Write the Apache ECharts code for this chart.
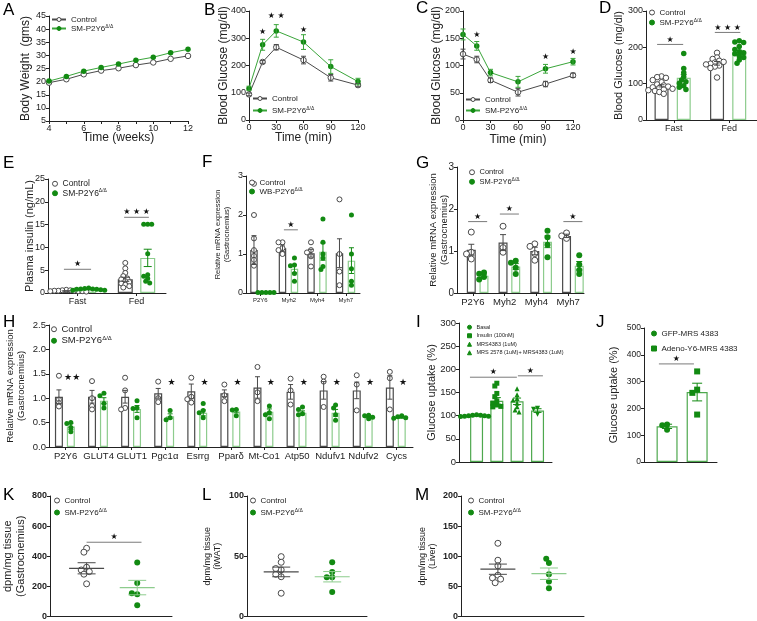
<!DOCTYPE html>
<html>
<head>
<meta charset="utf-8">
<script src="https://cdn.jsdelivr.net/npm/echarts@6/dist/echarts.min.js"></script>
<style>
html, body { margin: 0; padding: 0; background: #fff; }
#chart-container { width: 757px; height: 621px; }
</style>
</head>
<body>
<div id="chart-container"></div>
<script>
// ---------- data ----------
// A: body weight
const weeks = [4, 5, 6, 7, 8, 9, 10, 11, 12];
const bwControl = [19.6, 20.9, 22.8, 24.2, 25.1, 26.3, 27.3, 28.7, 29.8];
const bwSM = [20.2, 22.0, 24.0, 25.4, 26.7, 28.1, 29.3, 31.0, 32.3];

// B: glucose tolerance
const gttTime = [0, 15, 30, 60, 90, 120];
const gttControl = [94, 213, 267, 220, 155, 128];
const gttControlSem = [5, 5, 10, 14, 12, 6];
const gttSM = [116, 276, 327, 286, 196, 141];
const gttSMSem = [8, 20, 23, 27, 25, 12];
const gttStars = [[15, 322, '★'], [30, 382, '★ ★'], [60, 330, '★']];

// C: insulin tolerance
const ittTime = [0, 15, 30, 60, 90, 120];
const ittControl = [121, 111, 73, 51, 66, 82];
const ittControlSem = [9, 6, 4, 7, 5, 4];
const ittSM = [157, 136, 87, 70, 94, 107];
const ittSMSem = [10, 8, 6, 10, 8, 6];
const ittStars = [[15, 157, '★'], [90, 115, '★'], [120, 125, '★']];

// D: blood glucose fast / fed
const dCats = ['Fast', 'Fed'];
const dControlMean = [94, 156];
const dControlSem = [3, 5];
const dSMMean = [116, 186];
const dSMSem = [9, 6];
const dControlDots = [
  [120, 118, 116, 110, 104, 98, 95, 92, 90, 88, 86, 84, 82, 80, 77, 72],
  [185, 172, 168, 163, 160, 158, 155, 153, 150, 147, 143, 117]
];
const dSMDots = [
  [183, 142, 130, 119, 110, 105, 101, 94, 90, 84],
  [218, 215, 213, 202, 194, 188, 185, 182, 176, 172, 165, 156]
];
const dSig = [[0.2, 0.67, 208, '★'], [1.24, 1.7, 241, '★ ★ ★']];

// E: plasma insulin
const eCats = ['Fast', 'Fed'];
const eControlMean = [0.45, 3.0];
const eControlSem = [0.05, 0.45];
const eSMMean = [0.8, 7.7];
const eSMSem = [0.07, 1.9];
const eControlDots = [
  [0.7, 0.6, 0.6, 0.5, 0.5, 0.5, 0.4, 0.4, 0.4, 0.3, 0.3, 0.2],
  [6.6, 5.4, 4.4, 3.7, 3.2, 3.0, 2.6, 2.4, 2.1, 1.8, 1.5, 1.2]
];
const eSMDots = [
  [1.1, 1.0, 0.9, 0.9, 0.8, 0.8, 0.7, 0.6, 0.6],
  [15.1, 15.1, 15.1, 8.6, 4.0, 3.7, 3.2, 2.6, 2.2]
];
const eSig = [[0.27, 0.73, 5.2, '★'], [1.29, 1.71, 16.6, '★ ★ ★']];

// F: WB knockout mRNA
const fCats = ['P2Y6', 'Myh2', 'Myh4', 'Myh7'];
const fControlMean = [1.1, 1.15, 1.02, 1.02];
const fControlSem = [0.37, 0.08, 0.1, 0.37];
const fWBMean = [0.0, 0.62, 1.06, 0.83];
const fWBSem = [0.0, 0.1, 0.22, 0.33];
const fControlDots = [[2.8, 2.0, 1.4, 1.1, 0.95, 0.85, 0.7], [1.3, 1.3, 1.15, 1.1, 1.0], [1.3, 1.1, 1.04, 0.94, 0.68], [2.4, 1.0, 0.55, 0.2]];
const fWBDots = [[0.01, 0.01, 0.01, 0.01, 0.01], [0.9, 0.72, 0.7, 0.5, 0.3], [1.9, 1.3, 1.0, 0.9, 0.68, 0.6], [2.0, 1.0, 0.62, 0.3, 0.2]];
const fSig = [[1.33, 1.82, 1.62, '★']];

// G: SM knockout mRNA
const gCats = ['P2Y6', 'Myh2', 'Myh4', 'Myh7'];
const gControlMean = [1.03, 1.2, 1.0, 1.36];
const gControlSem = [0.13, 0.19, 0.09, 0.04];
const gSMMean = [0.41, 0.63, 1.22, 0.65];
const gSMSem = [0.04, 0.07, 0.14, 0.1];
const gControlDots = [[1.45, 0.97, 0.93, 0.81], [1.59, 1.08, 0.97], [1.17, 1.11, 0.94, 0.78], [1.43, 1.36, 1.3]];
const gSMDots = [[0.49, 0.46, 0.38, 0.32], [0.77, 0.72, 0.6, 0.45], [1.48, 1.33, 1.15, 0.85], [0.9, 0.68, 0.55, 0.45]];
const gSig = [[0.35, 0.95, 1.7, '★'], [1.35, 1.95, 1.88, '★'], [3.35, 3.95, 1.7, '★']];

// H: gene panel
const hCats = ['P2Y6', 'GLUT4', 'GLUT1', 'Pgc1α', 'Esrrg', 'Pparδ', 'Mt-Co1', 'Atp50', 'Ndufv1', 'Ndufv2', 'Cycs'];
const hControlMean = [1.03, 1.03, 1.03, 1.10, 1.14, 1.10, 1.22, 1.13, 1.16, 1.16, 1.22];
const hControlSem = [0.14, 0.13, 0.13, 0.10, 0.15, 0.07, 0.22, 0.15, 0.18, 0.17, 0.24];
const hSMMean = [0.42, 0.95, 0.78, 0.63, 0.70, 0.73, 0.72, 0.70, 0.70, 0.62, 0.61];
const hSMSem = [0.06, 0.06, 0.07, 0.05, 0.06, 0.03, 0.06, 0.04, 0.07, 0.02, 0.02];
const hControlDots = [
  [1.46, 0.97, 0.9, 0.83], [1.35, 1.0, 0.84, 0.77], [1.42, 1.16, 0.8, 0.77], [1.34, 1.0, 0.92],
  [1.42, 1.03, 0.98, 0.91], [1.28, 1.06, 0.94], [1.64, 1.12, 0.94], [1.4, 1.16, 0.87],
  [1.44, 1.34, 0.82], [1.47, 1.28, 0.75], [1.54, 1.41, 0.77]
];
const hSMDots = [
  [0.5, 0.48, 0.4, 0.31], [1.1, 1.05, 0.89, 0.8], [0.95, 0.8, 0.79, 0.6], [0.75, 0.6, 0.56],
  [0.89, 0.75, 0.7, 0.6], [0.77, 0.76, 0.64], [0.84, 0.7, 0.66, 0.58], [0.82, 0.77, 0.68, 0.66],
  [0.86, 0.8, 0.66, 0.55], [0.65, 0.64, 0.61, 0.58], [0.64, 0.62, 0.6, 0.59]
];
const hStars = ['★★', '', '', '★', '★', '★', '★', '★', '★', '★', '★'];

// I: glucose uptake, treatments
const iNames = ['basal', 'insulin', 'mrs4383', 'mrs2578'];
const iMean = [101, 132, 131, 111];
const iSem = [1, 7, 7, 4];
const iDots = [
  [102, 101, 101, 100, 100, 99, 99, 98],
  [170, 164, 148, 141, 132, 127, 123, 120, 119],
  [158, 145, 137, 134, 127, 119, 112, 108],
  [116, 114, 103]
];
const iSig = [[0.53, 2.8, 183, '★'], [2.85, 4.06, 186, '★']];

// J: glucose uptake, adeno
const jNames = ['gfp', 'adeno'];
const jMean = [133, 261];
const jSem = [8, 33];
const jDots = [[140, 137, 120], [338, 270, 258, 177]];
const jSig = [[0.51, 1.71, 366, '★']];

// K-M: tissue uptake
const kControl = [453, 427, 327, 309, 298, 281, 217];
const kSM = [358, 223, 148, 155, 75];
const kMean = [320, 192];
const kSem = [37, 48];
const lControl = [49.7, 45, 38.7, 39.8, 33, 35, 19.3];
const lSM = [45, 37, 32.6, 32.6, 20.4];
const lMean = [37, 33];
const lSem = [4, 4.3];
const mControl = [121.5, 93.4, 84, 68.5, 64, 62, 56];
const mSM = [89, 96, 70, 58, 47];
const mMean = [78.5, 71];
const mSem = [8.5, 9.5];

// ---------- styling ----------
const FONT = 'Liberation Sans, Arial, Helvetica, sans-serif';
const INK = '#222';
const GREY = '#4a4a4a';
const GREEN = '#128a12';
const LINEGREEN = '#3aa53a';
const LIGHT = '#8dcc8d';
const MIDGREEN = '#4ea84e';

const LABELS = {
  ctrlLine: 'Control', smLine: 'SM-P2Y6{sup|Δ/Δ}', ctrlDot: 'Control', smDot: 'SM-P2Y6{sup|Δ/Δ}',
  wbDot: 'WB-P2Y6{sup|Δ/Δ}', basal: 'Basal', insulin: 'Insulin (100nM)', mrs4383: 'MRS4383 (1uM)',
  mrs2578: 'MRS 2578 (1uM)+ MRS4383 (1uM)', gfp: 'GFP-MRS 4383', adeno: 'Adeno-Y6-MRS 4383'
};

const grids = [], xAxes = [], yAxes = [], series = [], legends = [], graphics = [];

function addGrid(box) {
  grids.push({ left: box[0], top: box[1], width: box[2], height: box[3] });
  return grids.length - 1;
}

function yAxisFor(gi, min, max, interval, name, o) {
  o = o || {};
  yAxes.push({
    gridIndex: gi, type: 'value', min: min, max: max, interval: interval,
    axisLine: { show: true, lineStyle: { color: INK, width: 1 } },
    axisTick: { show: true, length: 3, lineStyle: { color: INK, width: 1 } },
    axisLabel: { fontSize: o.fs || 9, color: INK, fontFamily: FONT, margin: 3, fontWeight: o.bold ? 'bold' : 'normal', formatter: o.fmt },
    splitLine: { show: false },
    name: name, nameLocation: 'middle', nameGap: o.gap, nameMoveOverlap: false,
    nameTextStyle: { fontSize: o.nfs || 11, color: INK, fontFamily: FONT, lineHeight: Math.round((o.nfs || 11) * 1.15) }
  });
  return yAxes.length - 1;
}

function xValueAxis(gi, min, max, interval, o) {
  o = o || {};
  xAxes.push({
    gridIndex: gi, type: 'value', position: 'bottom', min: min, max: max, interval: interval,
    axisLine: { show: true, onZero: false, lineStyle: { color: INK, width: 1 } },
    axisTick: { show: o.ticks !== false, length: 3, lineStyle: { color: INK } },
    minorTick: { show: !!o.minor, splitNumber: o.minor || 5, length: 3, lineStyle: { color: INK } },
    axisLabel: { show: o.labels !== false, fontSize: o.fs || 9, color: INK, fontFamily: FONT, margin: 3 },
    splitLine: { show: false },
    name: o.name || '', nameLocation: 'middle', nameGap: o.gap || 14, nameMoveOverlap: false,
    nameTextStyle: { fontSize: o.nfs || 12, color: INK, fontFamily: FONT }
  });
  return xAxes.length - 1;
}

function hiddenX(gi, max) {
  xAxes.push({ gridIndex: gi, type: 'value', position: 'bottom', min: 0, max: max, show: false });
  return xAxes.length - 1;
}

function xCatAxis(gi, cats, fs) {
  xAxes.push({
    gridIndex: gi, type: 'category', position: 'bottom', data: cats,
    axisLine: { show: true, onZero: false, lineStyle: { color: INK, width: 1 } },
    axisTick: { show: true, alignWithLabel: true, length: 3, lineStyle: { color: INK } },
    axisLabel: { fontSize: fs, color: INK, fontFamily: FONT, margin: 4, interval: 0 },
    splitLine: { show: false }
  });
  return xAxes.length - 1;
}

// simple beeswarm so equal values sit side by side, like Prism
function swarm(vals, cx, pxX, pxY, r) {
  const placed = [];
  return vals.map(function (v) {
    const py = v * pxY;
    let dx = 0;
    for (let k = 0; k < 30; k++) {
      const cand = k === 0 ? 0 : (k % 2 ? -1 : 1) * Math.ceil(k / 2) * r * 0.8;
      if (placed.every(p => (p[0] - cand) ** 2 + (p[1] - py) ** 2 >= (r * 1.35) ** 2)) { dx = cand; break; }
    }
    placed.push([dx, py]);
    return [cx + dx / pxX, v];
  });
}

function errSeries(xi, yi, data, color, capPx, meanPx) {
  return {
    type: 'custom', xAxisIndex: xi, yAxisIndex: yi, silent: true, z: 4, data: data,
    renderItem: function (params, api) {
      const x = api.value(0), m = api.value(1), e = api.value(2);
      const hi = api.coord([x, m + e]), lo = api.coord([x, m - e]), mid = api.coord([x, m]);
      const st = () => ({ stroke: color, lineWidth: 1 });
      const kids = [
        { type: 'line', shape: { x1: hi[0], y1: hi[1], x2: lo[0], y2: lo[1] }, style: st() },
        { type: 'line', shape: { x1: hi[0] - capPx / 2, y1: hi[1], x2: hi[0] + capPx / 2, y2: hi[1] }, style: st() },
        { type: 'line', shape: { x1: lo[0] - capPx / 2, y1: lo[1], x2: lo[0] + capPx / 2, y2: lo[1] }, style: st() }
      ];
      if (meanPx) kids.push({ type: 'line', shape: { x1: mid[0] - meanPx / 2, y1: mid[1], x2: mid[0] + meanPx / 2, y2: mid[1] }, style: { stroke: color, lineWidth: 1.2 } });
      return { type: 'group', children: kids };
    }
  };
}

// marks: [x1, x2, y, text]; a line is drawn when x2 > x1
function sigSeries(xi, yi, marks, fs) {
  return {
    type: 'custom', xAxisIndex: xi, yAxisIndex: yi, silent: true, z: 5,
    data: marks.map(m => [m[0], m[2]]),
    renderItem: function (params, api) {
      const m = marks[params.dataIndex];
      const a = api.coord([m[0], m[2]]), b = api.coord([m[1], m[2]]);
      const kids = [];
      const hasLine = m[1] > m[0];
      if (hasLine) kids.push({ type: 'line', shape: { x1: a[0], y1: a[1], x2: b[0], y2: b[1] }, style: { stroke: '#7a7a7a', lineWidth: 1 } });
      kids.push({
        type: 'text', x: (a[0] + b[0]) / 2, y: hasLine ? a[1] - 1 : a[1],
        style: { text: m[3], fontSize: fs, fill: '#111', align: 'center', verticalAlign: hasLine ? 'bottom' : 'middle', fontFamily: 'DejaVu Sans' }
      });
      return { type: 'group', children: kids };
    }
  };
}

function addLegend(names, left, top, o) {
  const fs = o.fs;
  legends.push({
    left: left, top: top, orient: 'vertical', data: names, selectedMode: false, padding: 0,
    itemGap: o.gap, itemWidth: o.iw, itemHeight: o.ih,
    itemStyle: { borderWidth: 1 },
    formatter: n => LABELS[n],
    textStyle: {
      fontSize: fs, color: INK, fontFamily: FONT, lineHeight: fs + 1,
      rich: { sup: { fontSize: Math.max(5, Math.round(fs * 0.6)), color: INK, fontFamily: FONT, verticalAlign: 'top', lineHeight: fs + 1 } }
    }
  });
}

// open circles: white fill with a thin grey ring
const OPEN = { color: '#fff', borderColor: GREY, borderWidth: 1, opacity: 1 };
const CTRL = { name: 'ctrlDot', symbol: 'circle', open: true, color: GREY, bar: GREY, err: GREY };
const SMK = { name: 'smDot', symbol: 'circle', color: GREEN, bar: LIGHT, err: GREEN };

function dotStyle(g) {
  return g.open ? OPEN : { color: g.color, borderColor: g.color, borderWidth: 0, opacity: 1 };
}

function linePanel(p) {
  const gi = addGrid(p.box);
  const xi = xValueAxis(gi, p.xmin, p.xmax, p.xint, { name: p.xname, gap: p.xgap, minor: p.minor });
  const yi = yAxisFor(gi, p.ymin, p.ymax, p.yint, p.yname, { gap: p.ygap, nfs: 12 });
  p.lines.forEach(function (l) {
    series.push({
      type: 'line', name: l.name, xAxisIndex: xi, yAxisIndex: yi, silent: true, z: l.z || 2,
      data: p.x.map((x, i) => [x, l.y[i]]),
      symbol: 'circle', symbolSize: 5.5,
      itemStyle: dotStyle(l),
      lineStyle: { color: l.line, width: 1 }
    });
    if (l.sem) series.push(errSeries(xi, yi, p.x.map((x, i) => [x, l.y[i], l.sem[i]]), l.err, 5, 0));
  });
  if (p.stars) series.push(sigSeries(xi, yi, p.stars.map(s => [s[0], s[0], s[1], s[2]]), 8));
}

function barPanel(p) {
  const gi = addGrid(p.box);
  if (p.cats) xCatAxis(gi, p.cats, p.catFs);
  const xi = p.cats ? hiddenX(gi, p.xmax) : xValueAxis(gi, 0, p.xmax, p.xmax, { ticks: false, labels: false });
  const yi = yAxisFor(gi, p.ymin, p.ymax, p.yint, p.yname, { gap: p.ygap, nfs: p.nfs, fs: p.yfs, fmt: p.yfmt });
  const pxX = p.box[2] / p.xmax, pxY = p.box[3] / (p.ymax - p.ymin);
  series.push({
    type: 'bar', xAxisIndex: xi, yAxisIndex: yi, barWidth: p.barW, silent: true, z: 1,
    data: p.groups.map(g => ({ value: [g.x, g.mean], itemStyle: { color: '#fff', borderColor: g.bar, borderWidth: 1.2 } }))
  });
  p.groups.forEach(function (g) {
    series.push({
      type: 'scatter', name: g.name, xAxisIndex: xi, yAxisIndex: yi, silent: true, z: 3,
      symbol: g.symbol, symbolSize: g.size || p.dot, symbolRotate: g.rot || 0,
      itemStyle: dotStyle(g),
      data: swarm(g.dots, g.x, pxX, pxY, (g.size || p.dot) / 2)
    });
    series.push(errSeries(xi, yi, [[g.x, g.mean, g.sem]], g.err, p.cap, 0));
  });
  if (p.sig) series.push(sigSeries(xi, yi, p.sig, p.starFs || 8));
}

function dotPanel(p) {
  const gi = addGrid(p.box);
  const xi = xValueAxis(gi, 0, 2, 2, { ticks: false, labels: false });
  const yi = yAxisFor(gi, 0, p.ymax, p.yint, p.yname, { gap: p.ygap, nfs: p.nfs, bold: true });
  const pxX = p.box[2] / 2, pxY = p.box[3] / p.ymax;
  [[CTRL, p.ctrl, 0], [SMK, p.sm, 1]].forEach(function (d) {
    const st = d[0], x = p.xs[d[2]];
    series.push({
      type: 'scatter', name: st.name, xAxisIndex: xi, yAxisIndex: yi, silent: true, z: 3,
      symbol: 'circle', symbolSize: 6,
      itemStyle: dotStyle(st),
      data: swarm(d[1], x, pxX, pxY, 3.4)
    });
    series.push(errSeries(xi, yi, [[x, p.mean[d[2]], p.sem[d[2]]]], d[2] ? LIGHT : GREY, 18, 35));
  });
  if (p.sig) series.push(sigSeries(xi, yi, p.sig, 8));
}

// ---------- panels ----------
linePanel({
  box: [49, 16, 139, 105], x: weeks, xmin: 4, xmax: 12, xint: 2, minor: 2,
  xname: 'Time (weeks)', xgap: 11, ymin: 5, ymax: 45, yint: 5, yname: 'Body Weight  (gms)', ygap: 16,
  lines: [
    { name: 'ctrlLine', y: bwControl, open: true, color: GREY, line: GREY },
    { name: 'smLine', y: bwSM, color: GREEN, line: LINEGREEN, z: 3 }
  ]
});
addLegend(['ctrlLine', 'smLine'], 51, 15, { fs: 8, gap: 0, iw: 14, ih: 5 });

linePanel({
  box: [249, 11, 109, 109], x: gttTime, xmin: 0, xmax: 120, xint: 30,
  xname: 'Time (min)', xgap: 12, ymin: 0, ymax: 400, yint: 100, yname: 'Blood Glucose (mg/dl)', ygap: 18,
  lines: [
    { name: 'ctrlLine', y: gttControl, sem: gttControlSem, open: true, color: GREY, line: GREY, err: GREY },
    { name: 'smLine', y: gttSM, sem: gttSMSem, color: GREEN, line: LINEGREEN, err: LINEGREEN, z: 3 }
  ],
  stars: gttStars
});
addLegend(['ctrlLine', 'smLine'], 252, 94, { fs: 8, gap: 3, iw: 14, ih: 5 });

linePanel({
  box: [463, 11, 110, 109], x: ittTime, xmin: 0, xmax: 120, xint: 30,
  xname: 'Time (min)', xgap: 14, ymin: 0, ymax: 200, yint: 50, yname: 'Blood Glucose (mg/dl)', ygap: 19,
  lines: [
    { name: 'ctrlLine', y: ittControl, sem: ittControlSem, open: true, color: GREY, line: GREY, err: GREY },
    { name: 'smLine', y: ittSM, sem: ittSMSem, color: GREEN, line: LINEGREEN, err: LINEGREEN, z: 3 }
  ],
  stars: ittStars
});
addLegend(['ctrlLine', 'smLine'], 465, 95, { fs: 8, gap: 2, iw: 14, ih: 5 });

function pairGroups(cMean, cSem, cDots, sMean, sSem, sDots, offC, offS, smStyle) {
  const out = [];
  cMean.forEach(function (m, i) {
    out.push(Object.assign({}, CTRL, { x: i + offC, mean: m, sem: cSem[i], dots: cDots[i] }));
    out.push(Object.assign({}, smStyle, { x: i + offS, mean: sMean[i], sem: sSem[i], dots: sDots[i] }));
  });
  return out;
}

barPanel({
  box: [646, 11, 111, 109], cats: dCats, catFs: 9, xmax: 2, ymin: 0, ymax: 300, yint: 100,
  yname: 'Blood Glucose (mg/dl)', ygap: 21, nfs: 11, barW: 14, dot: 5.5, cap: 6,
  groups: pairGroups(dControlMean, dControlSem, dControlDots, dSMMean, dSMSem, dSMDots, 0.28, 0.68, SMK),
  sig: dSig
});
addLegend(['ctrlDot', 'smDot'], 649, 8, { fs: 8, gap: 1, iw: 5, ih: 5 });

barPanel({
  box: [48, 179, 118, 114], cats: eCats, catFs: 9, xmax: 2, ymin: 0, ymax: 25, yint: 5,
  yname: 'Plasma insulin (ng/mL)', ygap: 12, nfs: 11, barW: 15, dot: 5, cap: 8,
  groups: pairGroups(eControlMean, eControlSem, eControlDots, eSMMean, eSMSem, eSMDots, 0.31, 0.69, SMK),
  sig: eSig
});
addLegend(['ctrlDot', 'smDot'], 52, 179, { fs: 8.5, gap: 0, iw: 5, ih: 5 });

barPanel({
  box: [246, 176, 114, 117], cats: fCats, catFs: 6, xmax: 4, ymin: 0, ymax: 3, yint: 1,
  yname: 'Relative mRNA expression\n(Gastrocnemius)', ygap: 15, nfs: 7.5, barW: 7.5, dot: 5, cap: 5,
  groups: pairGroups(fControlMean, fControlSem, fControlDots, fWBMean, fWBSem, fWBDots, 0.28, 0.7,
    { name: 'wbDot', symbol: 'circle', color: GREEN, bar: LIGHT, err: GREEN }),
  sig: fSig
});
addLegend(['ctrlDot', 'wbDot'], 249, 178, { fs: 8, gap: 0, iw: 5, ih: 5 });

barPanel({
  box: [457, 167, 127, 126], cats: gCats, catFs: 9.5, xmax: 4, ymin: 0, ymax: 3, yint: 1, yfs: 10,
  yname: 'Relative mRNA expression\n(Gastrocnemius)', ygap: 7, nfs: 9.5, barW: 9, dot: 6, cap: 6,
  groups: pairGroups(gControlMean, gControlSem, gControlDots, gSMMean, gSMSem, gSMDots, 0.45, 0.85, SMK),
  sig: gSig
});
addLegend(['ctrlDot', 'smDot'], 469, 168, { fs: 7.5, gap: 1, iw: 5, ih: 5 });

barPanel({
  box: [49, 325, 364, 122], cats: hCats, catFs: 9.5, xmax: 11, ymin: 0, ymax: 2.5, yint: 0.5, yfs: 9.5,
  yfmt: v => v.toFixed(1),
  yname: 'Relative mRNA expression\n(Gastrocnemius)', ygap: 22, nfs: 9.5, barW: 8, dot: 5, cap: 5,
  groups: pairGroups(hControlMean, hControlSem, hControlDots, hSMMean, hSMSem, hSMDots, 0.3, 0.66, SMK),
  sig: hStars.map((s, i) => [i + 0.7, i + 0.7, i === 0 ? 1.42 : 1.32, s]).filter(s => s[3]),
  starFs: 9
});
addLegend(['ctrlDot', 'smDot'], 51, 324, { fs: 9.5, gap: 1, iw: 5, ih: 5 });

const iStyles = [
  { name: 'basal', symbol: 'circle' },
  { name: 'insulin', symbol: 'rect', size: 5 },
  { name: 'mrs4383', symbol: 'triangle', size: 5 },
  { name: 'mrs2578', symbol: 'triangle', rot: 180, size: 5 }
];
const iX = [0.85, 1.83, 2.81, 3.8];
barPanel({
  box: [459, 323, 93, 139], xmax: 4.5, ymin: 0, ymax: 300, yint: 50, yfs: 9.5,
  yname: 'Glucose uptake (%)', ygap: 21, nfs: 11, barW: 13, dot: 5, cap: 8,
  groups: iNames.map((n, i) => Object.assign({ color: GREEN, bar: MIDGREEN, err: GREEN, x: iX[i], mean: iMean[i], sem: iSem[i], dots: iDots[i] }, iStyles[i])),
  sig: iSig
});
addLegend(iNames, 467, 324, { fs: 5.5, gap: 2, iw: 4, ih: 4 });

const jStyles = [{ name: 'gfp', symbol: 'circle' }, { name: 'adeno', symbol: 'rect' }];
const jX = [0.79, 1.82];
barPanel({
  box: [644, 328, 73, 134], xmax: 2.5, ymin: 0, ymax: 500, yint: 100, yfs: 8.5,
  yname: 'Glucose uptake (%)', ygap: 24, nfs: 11, barW: 21, dot: 6, cap: 10,
  groups: jNames.map((n, i) => Object.assign({ color: GREEN, bar: MIDGREEN, err: GREEN, x: jX[i], mean: jMean[i], sem: jSem[i], dots: jDots[i] }, jStyles[i])),
  sig: jSig
});
addLegend(jNames, 651, 329, { fs: 8, gap: 6, iw: 5, ih: 5 });

dotPanel({
  box: [49, 496, 123, 121], ymax: 800, yint: 200, yname: 'dpm/mg tissue\n(Gastrocnemius)', ygap: 23, nfs: 11,
  ctrl: kControl, sm: kSM, mean: kMean, sem: kSem, xs: [0.6, 1.43], sig: [[0.6, 1.5, 493, '★']]
});
addLegend(['ctrlDot', 'smDot'], 54, 496, { fs: 8, gap: 3, iw: 5, ih: 5 });

dotPanel({
  box: [247, 496, 120, 121], ymax: 100, yint: 50, yname: 'dpm/mg tissue\n(iWAT)', ygap: 24, nfs: 9,
  ctrl: lControl, sm: lSM, mean: lMean, sem: lSem, xs: [0.57, 1.42]
});
addLegend(['ctrlDot', 'smDot'], 250, 496, { fs: 8, gap: 3, iw: 5, ih: 5 });

dotPanel({
  box: [461, 496, 123, 121], ymax: 200, yint: 50, yname: 'dpm/mg tissue\n(Liver)', ygap: 23, nfs: 9,
  ctrl: mControl, sm: mSM, mean: mMean, sem: mSem, xs: [0.6, 1.43]
});
addLegend(['ctrlDot', 'smDot'], 468, 496, { fs: 8, gap: 3, iw: 5, ih: 5 });

// panel letters
const panelLetters = [
  ['A', 3, 2], ['B', 204, 2], ['C', 416, 0], ['D', 599, 0], ['E', 3, 155], ['F', 202, 154], ['G', 416, 155],
  ['H', 3, 314], ['I', 416, 314], ['J', 596, 314], ['K', 3, 487], ['L', 202, 487], ['M', 415, 487]
];
panelLetters.forEach(function (p) {
  graphics.push({ type: 'text', left: p[1], top: p[2], silent: true, style: { text: p[0], fontSize: 17, fontFamily: FONT, fill: '#000' } });
});

var dom = document.getElementById('chart-container');
var myChart = echarts.init(dom, null, { renderer: 'canvas' });
var option = {
  animation: false,
  backgroundColor: '#fff',
  grid: grids,
  xAxis: xAxes,
  yAxis: yAxes,
  legend: legends,
  graphic: graphics,
  series: series
};
myChart.setOption(option);
window.addEventListener('resize', myChart.resize);
</script>
</body>
</html>
